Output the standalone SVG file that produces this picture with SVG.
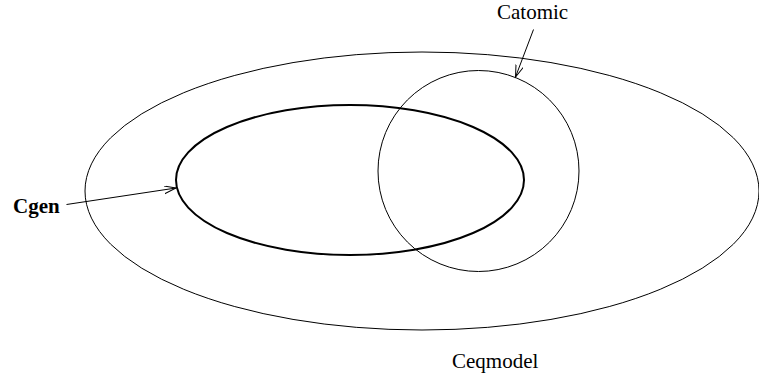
<svg xmlns="http://www.w3.org/2000/svg" width="759" height="385" viewBox="0 0 759 385">
<style>
.thin{fill:none;stroke:#000;stroke-width:1}
.bold{fill:none;stroke:#000;stroke-width:2}
.lbl{font-family:"Liberation Serif","Times New Roman",serif;font-size:21px;fill:#000}
.b{font-weight:bold}
.conn{fill:none;stroke:#000;stroke-width:1}
</style>
<defs>
<marker id="arr" markerWidth="14" markerHeight="10" refX="12" refY="4" orient="auto" markerUnits="userSpaceOnUse">
<path d="M0,0 L12,4 L0,8" fill="none" stroke="#000" stroke-width="1"/>
</marker>
</defs>
<rect width="759" height="385" fill="#fff"/>
<g id="ceqmodel">
<ellipse class="thin" cx="422" cy="191" rx="337" ry="139"/>
<text class="lbl" x="452" y="368">Ceqmodel</text>
</g>
<g id="cgen">
<ellipse class="bold" cx="350" cy="180" rx="174" ry="75"/>
<text class="lbl b" x="13" y="213">Cgen</text>
</g>
<g id="catomic">
<circle class="thin" cx="478.5" cy="171" r="100.5"/>
<text class="lbl" x="497" y="19">Catomic</text>
</g>
<g id="connectors">
<line class="conn" x1="66.5" y1="204.5" x2="176" y2="188" marker-end="url(#arr)"/>
<line class="conn" x1="533.5" y1="29.5" x2="515.5" y2="77" marker-end="url(#arr)"/>
</g>
</svg>
